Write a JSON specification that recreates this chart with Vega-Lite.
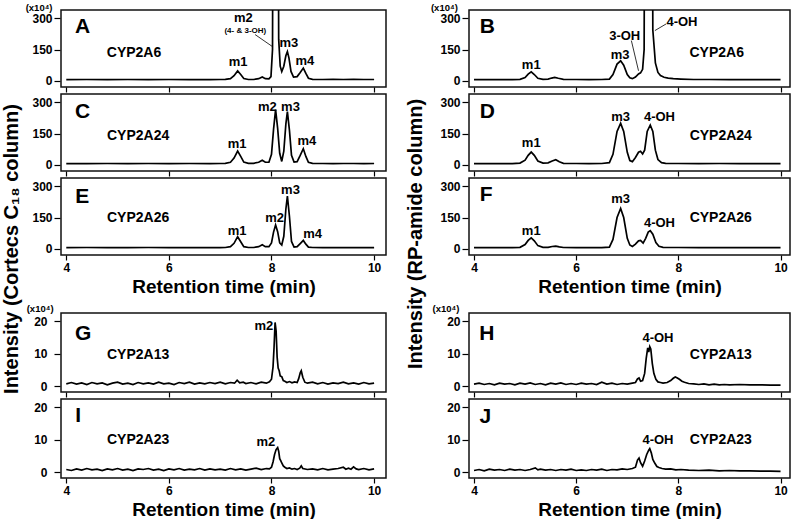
{
  "$schema": "https://vega.github.io/schema/vega-lite/v6.json",
  "background": "white",
  "padding": {"left": 1, "top": 2, "right": 0, "bottom": 0},
  "config": {
    "font": "Liberation Sans",
    "view": {"stroke": "#111", "strokeWidth": 1.5},
    "axis": {"domain": false, "grid": false, "labelFont": "Liberation Sans", "labelFontWeight": "bold", "labelFontSize": 12, "labelColor": "#000", "tickColor": "#000", "tickWidth": 1.2, "titleFont": "Liberation Sans", "titleFontWeight": "bold", "titleFontSize": 19, "titleColor": "#000"},
    "axisY": {"tickSize": 6, "labelPadding": 2, "offset": 1},
    "axisX": {"tickSize": 5, "labelPadding": 2, "titlePadding": 4},
    "line": {"color": "#000", "strokeWidth": 1.7},
    "rule": {"color": "#000", "strokeWidth": 0.8},
    "text": {"font": "Liberation Sans", "fontWeight": "bold", "color": "#000", "baseline": "middle", "align": "center"},
    "title": {"font": "Liberation Sans", "fontWeight": "bold", "color": "#000"}
  },
  "datasets": {
    "A": [{"t":4.0,"v":5},{"t":4.4,"v":6},{"t":4.8,"v":5},{"t":5.2,"v":6},{"t":5.6,"v":5},{"t":6.0,"v":6},{"t":6.4,"v":5},{"t":6.8,"v":5},{"t":7.0,"v":6},{"t":7.1,"v":7},{"t":7.2,"v":10},{"t":7.27,"v":24},{"t":7.34,"v":47},{"t":7.4,"v":30},{"t":7.46,"v":11},{"t":7.55,"v":6},{"t":7.65,"v":6},{"t":7.75,"v":10},{"t":7.82,"v":18},{"t":7.88,"v":10},{"t":7.95,"v":9},{"t":7.99,"v":20},{"t":8.02,"v":150},{"t":8.04,"v":2000},{"t":8.12,"v":2000},{"t":8.14,"v":200},{"t":8.17,"v":70},{"t":8.2,"v":44},{"t":8.24,"v":70},{"t":8.28,"v":120},{"t":8.31,"v":140},{"t":8.34,"v":110},{"t":8.38,"v":45},{"t":8.43,"v":18},{"t":8.5,"v":20},{"t":8.56,"v":40},{"t":8.62,"v":61},{"t":8.67,"v":35},{"t":8.72,"v":12},{"t":8.8,"v":7},{"t":9.0,"v":6},{"t":9.2,"v":7},{"t":9.4,"v":6},{"t":9.6,"v":7},{"t":9.8,"v":6},{"t":10.0,"v":6}],
    "C": [{"t":4.0,"v":5},{"t":4.4,"v":5},{"t":4.8,"v":6},{"t":5.2,"v":5},{"t":5.6,"v":6},{"t":6.0,"v":5},{"t":6.4,"v":6},{"t":6.8,"v":5},{"t":7.0,"v":6},{"t":7.1,"v":7},{"t":7.2,"v":12},{"t":7.27,"v":32},{"t":7.34,"v":66},{"t":7.4,"v":40},{"t":7.46,"v":13},{"t":7.55,"v":7},{"t":7.65,"v":7},{"t":7.75,"v":12},{"t":7.82,"v":22},{"t":7.88,"v":12},{"t":7.95,"v":12},{"t":8.0,"v":50},{"t":8.04,"v":170},{"t":8.08,"v":265},{"t":8.12,"v":175},{"t":8.16,"v":55},{"t":8.2,"v":16},{"t":8.24,"v":65},{"t":8.28,"v":195},{"t":8.31,"v":255},{"t":8.35,"v":165},{"t":8.39,"v":45},{"t":8.44,"v":13},{"t":8.5,"v":15},{"t":8.56,"v":45},{"t":8.62,"v":77},{"t":8.67,"v":40},{"t":8.72,"v":12},{"t":8.8,"v":7},{"t":9.0,"v":6},{"t":9.2,"v":5},{"t":9.4,"v":6},{"t":9.6,"v":6},{"t":9.8,"v":5},{"t":10.0,"v":6}],
    "E": [{"t":4.0,"v":5},{"t":4.4,"v":6},{"t":4.8,"v":5},{"t":5.2,"v":5},{"t":5.6,"v":6},{"t":6.0,"v":5},{"t":6.4,"v":5},{"t":6.8,"v":6},{"t":7.0,"v":5},{"t":7.1,"v":6},{"t":7.2,"v":10},{"t":7.27,"v":26},{"t":7.34,"v":58},{"t":7.4,"v":34},{"t":7.46,"v":10},{"t":7.55,"v":6},{"t":7.65,"v":6},{"t":7.75,"v":10},{"t":7.82,"v":19},{"t":7.88,"v":10},{"t":7.95,"v":10},{"t":8.0,"v":28},{"t":8.04,"v":80},{"t":8.08,"v":114},{"t":8.12,"v":82},{"t":8.16,"v":28},{"t":8.2,"v":18},{"t":8.24,"v":60},{"t":8.28,"v":190},{"t":8.31,"v":253},{"t":8.35,"v":155},{"t":8.39,"v":35},{"t":8.44,"v":8},{"t":8.5,"v":10},{"t":8.56,"v":25},{"t":8.62,"v":40},{"t":8.67,"v":22},{"t":8.72,"v":8},{"t":8.8,"v":6},{"t":9.0,"v":5},{"t":9.2,"v":6},{"t":9.4,"v":5},{"t":9.6,"v":6},{"t":9.8,"v":5},{"t":10.0,"v":5}],
    "B": [{"t":4.0,"v":5},{"t":4.25,"v":5},{"t":4.5,"v":6},{"t":4.75,"v":5},{"t":4.9,"v":7},{"t":5.0,"v":15},{"t":5.06,"v":32},{"t":5.12,"v":43},{"t":5.18,"v":30},{"t":5.25,"v":12},{"t":5.35,"v":7},{"t":5.45,"v":8},{"t":5.52,"v":13},{"t":5.58,"v":16},{"t":5.65,"v":12},{"t":5.75,"v":7},{"t":6.0,"v":6},{"t":6.25,"v":5},{"t":6.5,"v":6},{"t":6.65,"v":8},{"t":6.72,"v":30},{"t":6.8,"v":80},{"t":6.87,"v":96},{"t":6.93,"v":75},{"t":7.0,"v":30},{"t":7.05,"v":14},{"t":7.1,"v":10},{"t":7.16,"v":18},{"t":7.22,"v":33},{"t":7.26,"v":38},{"t":7.3,"v":55},{"t":7.33,"v":150},{"t":7.35,"v":2000},{"t":7.48,"v":2000},{"t":7.5,"v":244},{"t":7.55,"v":86},{"t":7.6,"v":40},{"t":7.65,"v":25},{"t":7.72,"v":17},{"t":7.8,"v":13},{"t":7.9,"v":10},{"t":8.05,"v":8},{"t":8.3,"v":6},{"t":8.6,"v":6},{"t":9.0,"v":5},{"t":9.5,"v":5},{"t":10.0,"v":5}],
    "D": [{"t":4.0,"v":5},{"t":4.25,"v":5},{"t":4.5,"v":6},{"t":4.75,"v":5},{"t":4.9,"v":8},{"t":5.0,"v":22},{"t":5.06,"v":45},{"t":5.12,"v":61},{"t":5.18,"v":45},{"t":5.25,"v":18},{"t":5.35,"v":8},{"t":5.45,"v":9},{"t":5.53,"v":18},{"t":5.6,"v":24},{"t":5.67,"v":14},{"t":5.75,"v":7},{"t":6.0,"v":6},{"t":6.25,"v":5},{"t":6.5,"v":6},{"t":6.65,"v":10},{"t":6.72,"v":50},{"t":6.8,"v":160},{"t":6.87,"v":199},{"t":6.93,"v":160},{"t":7.0,"v":60},{"t":7.05,"v":20},{"t":7.1,"v":15},{"t":7.16,"v":35},{"t":7.22,"v":60},{"t":7.26,"v":65},{"t":7.3,"v":52},{"t":7.34,"v":70},{"t":7.39,"v":160},{"t":7.45,"v":191},{"t":7.5,"v":160},{"t":7.55,"v":70},{"t":7.6,"v":25},{"t":7.67,"v":10},{"t":7.75,"v":7},{"t":8.0,"v":6},{"t":8.4,"v":5},{"t":8.8,"v":6},{"t":9.2,"v":5},{"t":9.6,"v":5},{"t":10.0,"v":5}],
    "F": [{"t":4.0,"v":5},{"t":4.25,"v":5},{"t":4.5,"v":6},{"t":4.75,"v":5},{"t":4.9,"v":7},{"t":5.0,"v":20},{"t":5.06,"v":40},{"t":5.12,"v":52},{"t":5.18,"v":38},{"t":5.25,"v":15},{"t":5.35,"v":7},{"t":5.45,"v":7},{"t":5.53,"v":11},{"t":5.6,"v":13},{"t":5.67,"v":9},{"t":5.75,"v":6},{"t":6.0,"v":5},{"t":6.25,"v":6},{"t":6.5,"v":5},{"t":6.65,"v":8},{"t":6.72,"v":45},{"t":6.8,"v":150},{"t":6.87,"v":194},{"t":6.93,"v":150},{"t":7.0,"v":50},{"t":7.05,"v":18},{"t":7.1,"v":11},{"t":7.16,"v":22},{"t":7.22,"v":38},{"t":7.26,"v":40},{"t":7.31,"v":27},{"t":7.36,"v":50},{"t":7.41,"v":80},{"t":7.45,"v":87},{"t":7.5,"v":70},{"t":7.56,"v":30},{"t":7.62,"v":12},{"t":7.7,"v":7},{"t":8.0,"v":6},{"t":8.4,"v":5},{"t":8.8,"v":5},{"t":9.2,"v":5},{"t":9.6,"v":5},{"t":10.0,"v":5}],
    "G": [{"t":4.0,"v":0.8},{"t":4.1,"v":1.2},{"t":4.2,"v":0.7},{"t":4.3,"v":1.1},{"t":4.4,"v":0.6},{"t":4.5,"v":1.2},{"t":4.6,"v":0.8},{"t":4.7,"v":1.1},{"t":4.8,"v":0.5},{"t":4.9,"v":1.0},{"t":5.0,"v":1.3},{"t":5.1,"v":0.7},{"t":5.2,"v":1.0},{"t":5.3,"v":0.6},{"t":5.4,"v":1.2},{"t":5.5,"v":0.8},{"t":5.6,"v":1.1},{"t":5.7,"v":0.7},{"t":5.8,"v":1.3},{"t":5.9,"v":0.8},{"t":6.0,"v":1.0},{"t":6.1,"v":0.6},{"t":6.2,"v":1.2},{"t":6.3,"v":0.9},{"t":6.4,"v":1.3},{"t":6.5,"v":0.7},{"t":6.6,"v":1.1},{"t":6.7,"v":0.8},{"t":6.8,"v":1.2},{"t":6.9,"v":0.9},{"t":7.0,"v":1.3},{"t":7.1,"v":0.8},{"t":7.2,"v":1.2},{"t":7.28,"v":1.0},{"t":7.33,"v":1.9},{"t":7.38,"v":1.1},{"t":7.45,"v":1.3},{"t":7.5,"v":0.9},{"t":7.6,"v":1.2},{"t":7.7,"v":0.8},{"t":7.8,"v":1.3},{"t":7.9,"v":1.0},{"t":7.96,"v":1.4},{"t":8.0,"v":2.2},{"t":8.03,"v":6},{"t":8.05,"v":12},{"t":8.07,"v":19.6},{"t":8.09,"v":17},{"t":8.11,"v":9},{"t":8.13,"v":5.6},{"t":8.15,"v":4.8},{"t":8.17,"v":3.2},{"t":8.2,"v":3.0},{"t":8.23,"v":1.8},{"t":8.26,"v":1.6},{"t":8.3,"v":1.2},{"t":8.35,"v":1.5},{"t":8.4,"v":1.1},{"t":8.45,"v":1.4},{"t":8.5,"v":1.2},{"t":8.53,"v":2.4},{"t":8.56,"v":4.2},{"t":8.58,"v":4.8},{"t":8.61,"v":2.8},{"t":8.65,"v":1.3},{"t":8.7,"v":1.0},{"t":8.8,"v":1.3},{"t":8.9,"v":0.8},{"t":9.0,"v":1.2},{"t":9.1,"v":0.7},{"t":9.2,"v":1.1},{"t":9.3,"v":0.9},{"t":9.4,"v":1.3},{"t":9.5,"v":0.8},{"t":9.6,"v":1.1},{"t":9.7,"v":0.7},{"t":9.8,"v":1.2},{"t":9.9,"v":0.8},{"t":10.0,"v":1.0}],
    "I": [{"t":4.0,"v":0.9},{"t":4.1,"v":0.6},{"t":4.2,"v":1.1},{"t":4.3,"v":0.7},{"t":4.4,"v":1.2},{"t":4.5,"v":0.8},{"t":4.6,"v":1.0},{"t":4.7,"v":0.6},{"t":4.8,"v":1.1},{"t":4.9,"v":0.8},{"t":5.0,"v":1.2},{"t":5.1,"v":0.7},{"t":5.2,"v":1.0},{"t":5.3,"v":0.6},{"t":5.4,"v":1.1},{"t":5.5,"v":0.9},{"t":5.6,"v":1.2},{"t":5.7,"v":0.7},{"t":5.8,"v":1.0},{"t":5.9,"v":0.6},{"t":6.0,"v":1.1},{"t":6.1,"v":0.8},{"t":6.2,"v":1.2},{"t":6.3,"v":0.7},{"t":6.4,"v":1.0},{"t":6.5,"v":0.8},{"t":6.6,"v":1.2},{"t":6.7,"v":0.7},{"t":6.8,"v":1.1},{"t":6.9,"v":0.8},{"t":7.0,"v":1.0},{"t":7.1,"v":0.7},{"t":7.2,"v":1.2},{"t":7.3,"v":0.8},{"t":7.4,"v":1.1},{"t":7.5,"v":0.7},{"t":7.6,"v":1.0},{"t":7.7,"v":1.3},{"t":7.8,"v":0.9},{"t":7.9,"v":1.2},{"t":7.96,"v":1.1},{"t":8.0,"v":1.6},{"t":8.03,"v":3.2},{"t":8.06,"v":5.5},{"t":8.09,"v":7.0},{"t":8.12,"v":7.6},{"t":8.14,"v":6.5},{"t":8.16,"v":4.2},{"t":8.18,"v":3.6},{"t":8.2,"v":2.9},{"t":8.23,"v":2.0},{"t":8.26,"v":1.6},{"t":8.3,"v":1.2},{"t":8.35,"v":1.4},{"t":8.4,"v":1.0},{"t":8.45,"v":1.2},{"t":8.5,"v":0.9},{"t":8.55,"v":1.3},{"t":8.58,"v":2.0},{"t":8.61,"v":1.2},{"t":8.7,"v":0.9},{"t":8.8,"v":1.1},{"t":8.9,"v":0.8},{"t":9.0,"v":1.2},{"t":9.1,"v":0.8},{"t":9.2,"v":1.0},{"t":9.3,"v":1.2},{"t":9.4,"v":1.6},{"t":9.45,"v":1.0},{"t":9.5,"v":1.3},{"t":9.55,"v":1.0},{"t":9.6,"v":1.7},{"t":9.65,"v":1.1},{"t":9.7,"v":0.9},{"t":9.8,"v":1.2},{"t":9.9,"v":0.8},{"t":10.0,"v":1.1}],
    "H": [{"t":4.0,"v":0.7},{"t":4.1,"v":1.0},{"t":4.2,"v":0.6},{"t":4.3,"v":0.9},{"t":4.4,"v":0.5},{"t":4.5,"v":1.0},{"t":4.6,"v":0.7},{"t":4.7,"v":0.9},{"t":4.8,"v":0.5},{"t":4.9,"v":1.0},{"t":5.0,"v":0.7},{"t":5.1,"v":1.1},{"t":5.2,"v":0.6},{"t":5.3,"v":0.9},{"t":5.4,"v":0.5},{"t":5.5,"v":1.0},{"t":5.6,"v":0.7},{"t":5.7,"v":1.1},{"t":5.8,"v":0.6},{"t":5.9,"v":0.9},{"t":6.0,"v":0.6},{"t":6.1,"v":1.0},{"t":6.2,"v":0.7},{"t":6.3,"v":0.9},{"t":6.4,"v":0.6},{"t":6.5,"v":1.3},{"t":6.6,"v":0.7},{"t":6.7,"v":1.0},{"t":6.8,"v":0.6},{"t":6.9,"v":0.9},{"t":7.0,"v":0.7},{"t":7.1,"v":1.0},{"t":7.16,"v":1.2},{"t":7.2,"v":2.3},{"t":7.23,"v":2.6},{"t":7.26,"v":1.6},{"t":7.3,"v":1.8},{"t":7.34,"v":4.0},{"t":7.37,"v":8.5},{"t":7.4,"v":11.8},{"t":7.42,"v":10.5},{"t":7.44,"v":12.2},{"t":7.46,"v":11.5},{"t":7.49,"v":7.0},{"t":7.52,"v":4.0},{"t":7.56,"v":2.2},{"t":7.6,"v":1.4},{"t":7.65,"v":1.2},{"t":7.7,"v":1.0},{"t":7.78,"v":1.2},{"t":7.85,"v":1.8},{"t":7.9,"v":2.5},{"t":7.94,"v":2.9},{"t":7.98,"v":2.6},{"t":8.02,"v":2.2},{"t":8.07,"v":1.6},{"t":8.12,"v":1.3},{"t":8.2,"v":0.9},{"t":8.3,"v":0.8},{"t":8.4,"v":0.6},{"t":8.5,"v":0.8},{"t":8.6,"v":0.5},{"t":8.7,"v":0.7},{"t":8.8,"v":0.5},{"t":8.9,"v":0.6},{"t":9.0,"v":0.5},{"t":9.2,"v":0.6},{"t":9.4,"v":0.5},{"t":9.6,"v":0.5},{"t":9.8,"v":0.4},{"t":10.0,"v":0.4}],
    "J": [{"t":4.0,"v":0.6},{"t":4.1,"v":0.9},{"t":4.2,"v":0.5},{"t":4.3,"v":1.0},{"t":4.4,"v":0.7},{"t":4.5,"v":0.9},{"t":4.6,"v":0.6},{"t":4.7,"v":1.0},{"t":4.8,"v":0.7},{"t":4.9,"v":0.9},{"t":5.0,"v":0.6},{"t":5.1,"v":0.9},{"t":5.2,"v":1.4},{"t":5.25,"v":0.8},{"t":5.3,"v":1.0},{"t":5.4,"v":0.7},{"t":5.5,"v":0.9},{"t":5.6,"v":0.6},{"t":5.7,"v":0.9},{"t":5.8,"v":0.7},{"t":5.9,"v":1.0},{"t":6.0,"v":0.6},{"t":6.1,"v":0.8},{"t":6.2,"v":0.6},{"t":6.3,"v":0.9},{"t":6.4,"v":0.7},{"t":6.5,"v":1.0},{"t":6.6,"v":0.6},{"t":6.7,"v":0.9},{"t":6.8,"v":0.8},{"t":6.9,"v":1.1},{"t":7.0,"v":0.9},{"t":7.1,"v":1.2},{"t":7.16,"v":1.6},{"t":7.2,"v":3.8},{"t":7.23,"v":4.4},{"t":7.26,"v":3.0},{"t":7.3,"v":1.9},{"t":7.34,"v":3.5},{"t":7.38,"v":5.5},{"t":7.42,"v":6.8},{"t":7.44,"v":7.3},{"t":7.47,"v":6.0},{"t":7.5,"v":4.0},{"t":7.54,"v":2.8},{"t":7.58,"v":1.8},{"t":7.62,"v":1.5},{"t":7.68,"v":1.2},{"t":7.75,"v":1.0},{"t":7.85,"v":1.1},{"t":7.95,"v":0.8},{"t":8.05,"v":0.9},{"t":8.2,"v":0.7},{"t":8.4,"v":0.6},{"t":8.6,"v":0.7},{"t":8.8,"v":0.5},{"t":9.0,"v":0.6},{"t":9.2,"v":0.5},{"t":9.4,"v":0.5},{"t":9.6,"v":0.4},{"t":9.8,"v":0.4},{"t":10.0,"v":0.3}],
    "L": [
      {"p":"A","t":4.32,"v":256,"s":"A","k":"L"},{"p":"A","t":5.32,"v":132,"s":"CYP2A6","k":"C"},{"p":"A","t":7.35,"v":89,"s":"m1","k":"P"},{"p":"A","t":7.45,"v":302,"s":"m2","k":"P"},{"p":"A","t":7.49,"v":238,"s":"(4- & 3-OH)","k":"S"},{"p":"A","t":8.34,"v":180,"s":"m3","k":"P"},{"p":"A","t":8.65,"v":96,"s":"m4","k":"P"},{"p":"A","t":3.47,"v":350,"s":"(x10⁴)","k":"X"},
      {"p":"C","t":4.32,"v":252,"s":"C","k":"L"},{"p":"C","t":5.4,"v":136,"s":"CYP2A24","k":"C"},{"p":"C","t":7.33,"v":100,"s":"m1","k":"P"},{"p":"C","t":7.92,"v":279,"s":"m2","k":"P"},{"p":"C","t":8.37,"v":279,"s":"m3","k":"P"},{"p":"C","t":8.69,"v":116,"s":"m4","k":"P"},
      {"p":"E","t":4.31,"v":249,"s":"E","k":"L"},{"p":"E","t":5.4,"v":150,"s":"CYP2A26","k":"C"},{"p":"E","t":7.33,"v":87,"s":"m1","k":"P"},{"p":"E","t":8.06,"v":147,"s":"m2","k":"P"},{"p":"E","t":8.37,"v":281,"s":"m3","k":"P"},{"p":"E","t":8.8,"v":71,"s":"m4","k":"P"},
      {"p":"B","t":4.26,"v":256,"s":"B","k":"L"},{"p":"B","t":8.75,"v":135,"s":"CYP2A6","k":"C"},{"p":"B","t":5.12,"v":77,"s":"m1","k":"P"},{"p":"B","t":6.86,"v":122,"s":"m3","k":"P"},{"p":"B","t":6.95,"v":215,"s":"3-OH","k":"P"},{"p":"B","t":8.07,"v":284,"s":"4-OH","k":"P"},{"p":"B","t":3.42,"v":350,"s":"(x10⁴)","k":"X"},
      {"p":"D","t":4.26,"v":252,"s":"D","k":"L"},{"p":"D","t":8.83,"v":136,"s":"CYP2A24","k":"C"},{"p":"D","t":5.12,"v":104,"s":"m1","k":"P"},{"p":"D","t":6.87,"v":228,"s":"m3","k":"P"},{"p":"D","t":7.63,"v":228,"s":"4-OH","k":"P"},
      {"p":"F","t":4.24,"v":257,"s":"F","k":"L"},{"p":"F","t":8.83,"v":150,"s":"CYP2A26","k":"C"},{"p":"F","t":5.12,"v":87,"s":"m1","k":"P"},{"p":"F","t":6.87,"v":237,"s":"m3","k":"P"},{"p":"F","t":7.63,"v":126,"s":"4-OH","k":"P"},
      {"p":"G","t":4.33,"v":16.1,"s":"G","k":"L"},{"p":"G","t":5.4,"v":9.5,"s":"CYP2A13","k":"C"},{"p":"G","t":7.85,"v":18.5,"s":"m2","k":"P"},{"p":"G","t":3.49,"v":23.8,"s":"(x10⁴)","k":"X"},
      {"p":"I","t":4.23,"v":17.2,"s":"I","k":"L"},{"p":"I","t":5.4,"v":9.9,"s":"CYP2A23","k":"C"},{"p":"I","t":7.89,"v":9.2,"s":"m2","k":"P"},
      {"p":"H","t":4.25,"v":16.1,"s":"H","k":"L"},{"p":"H","t":8.83,"v":9.5,"s":"CYP2A13","k":"C"},{"p":"H","t":7.6,"v":14.9,"s":"4-OH","k":"P"},{"p":"H","t":3.45,"v":23.8,"s":"(x10⁴)","k":"X"},
      {"p":"J","t":4.22,"v":16.9,"s":"J","k":"L"},{"p":"J","t":8.83,"v":9.9,"s":"CYP2A23","k":"C"},{"p":"J","t":7.6,"v":9.9,"s":"4-OH","k":"P"}
    ],
    "R": [
      {"p":"A","t":7.68,"v":222,"t2":8.02,"v2":164},
      {"p":"B","t":7.08,"v":193,"t2":7.22,"v2":48},
      {"p":"B","t":7.76,"v":273,"t2":7.54,"v2":241}
    ]
  },
  "spacing": 19,
  "hconcat": [
    {
      "title": {"text": "Intensity (Cortecs C₁₈ column)", "orient": "left", "anchor": "middle", "fontSize": 20, "offset": 3, "dx": 12},
      "spacing": 6,
      "vconcat": [
        {
          "spacing": -2,
          "vconcat": [
            {"width": 325, "height": 77,
             "encoding": {"x": {"field": "t", "type": "quantitative", "scale": {"domain": [3.897, 10.232], "nice": false, "zero": false}, "axis": {"values": [4, 6, 8, 10], "labels": false, "title": null}},
                          "y": {"field": "v", "type": "quantitative", "scale": {"domain": [-30, 340], "nice": false, "zero": false}, "axis": {"values": [0, 150, 300], "title": null}}},
             "layer": [
               {"data": {"name": "A"}, "mark": {"type": "line", "clip": true}, "encoding": {}},
               {"data": {"name": "L"}, "transform": [{"filter": "datum.p=='A'"}], "mark": {"type": "text"}, "encoding": {"text": {"field": "s"}, "size": {"field": "k", "type": "nominal", "scale": {"type": "ordinal", "domain": ["L", "C", "P", "S", "X"], "range": [21, 14, 13, 8, 9.5]}, "legend": null}}},
               {"data": {"name": "R"}, "transform": [{"filter": "datum.p=='A'"}], "mark": {"type": "rule"}, "encoding": {"x2": {"field": "t2"}, "y2": {"field": "v2"}}}
             ]},
            {"width": 325, "height": 77,
             "encoding": {"x": {"field": "t", "type": "quantitative", "scale": {"domain": [3.897, 10.232], "nice": false, "zero": false}, "axis": {"values": [4, 6, 8, 10], "labels": false, "title": null}},
                          "y": {"field": "v", "type": "quantitative", "scale": {"domain": [-30, 340], "nice": false, "zero": false}, "axis": {"values": [0, 150, 300], "title": null}}},
             "layer": [
               {"data": {"name": "C"}, "mark": {"type": "line", "clip": true}, "encoding": {}},
               {"data": {"name": "L"}, "transform": [{"filter": "datum.p=='C'"}], "mark": {"type": "text"}, "encoding": {"text": {"field": "s"}, "size": {"field": "k", "type": "nominal", "scale": {"type": "ordinal", "domain": ["L", "C", "P", "S", "X"], "range": [21, 14, 13, 8, 9.5]}, "legend": null}}}
             ]},
            {"width": 325, "height": 77,
             "encoding": {"x": {"field": "t", "type": "quantitative", "scale": {"domain": [3.897, 10.232], "nice": false, "zero": false}, "axis": {"values": [4, 6, 8, 10], "title": "Retention time (min)"}},
                          "y": {"field": "v", "type": "quantitative", "scale": {"domain": [-30, 340], "nice": false, "zero": false}, "axis": {"values": [0, 150, 300], "title": null}}},
             "layer": [
               {"data": {"name": "E"}, "mark": {"type": "line", "clip": true}, "encoding": {}},
               {"data": {"name": "L"}, "transform": [{"filter": "datum.p=='E'"}], "mark": {"type": "text"}, "encoding": {"text": {"field": "s"}, "size": {"field": "k", "type": "nominal", "scale": {"type": "ordinal", "domain": ["L", "C", "P", "S", "X"], "range": [21, 14, 13, 8, 9.5]}, "legend": null}}}
             ]}
          ]
        },
        {
          "spacing": -3,
          "vconcat": [
            {"width": 325, "height": 79,
             "encoding": {"x": {"field": "t", "type": "quantitative", "scale": {"domain": [3.897, 10.232], "nice": false, "zero": false}, "axis": {"values": [4, 6, 8, 10], "labels": false, "title": null}},
                          "y": {"field": "v", "type": "quantitative", "scale": {"domain": [-1.7, 22.5], "nice": false, "zero": false}, "axis": {"values": [0, 10, 20], "title": null, "labelPadding": 7}}},
             "layer": [
               {"data": {"name": "G"}, "mark": {"type": "line", "clip": true}, "encoding": {}},
               {"data": {"name": "L"}, "transform": [{"filter": "datum.p=='G'"}], "mark": {"type": "text"}, "encoding": {"text": {"field": "s"}, "size": {"field": "k", "type": "nominal", "scale": {"type": "ordinal", "domain": ["L", "C", "P", "S", "X"], "range": [21, 14, 13, 8, 9.5]}, "legend": null}}}
             ]},
            {"width": 325, "height": 79,
             "encoding": {"x": {"field": "t", "type": "quantitative", "scale": {"domain": [3.897, 10.232], "nice": false, "zero": false}, "axis": {"values": [4, 6, 8, 10], "title": "Retention time (min)"}},
                          "y": {"field": "v", "type": "quantitative", "scale": {"domain": [-1.7, 22.5], "nice": false, "zero": false}, "axis": {"values": [0, 10, 20], "title": null, "labelPadding": 7}}},
             "layer": [
               {"data": {"name": "I"}, "mark": {"type": "line", "clip": true}, "encoding": {}},
               {"data": {"name": "L"}, "transform": [{"filter": "datum.p=='I'"}], "mark": {"type": "text"}, "encoding": {"text": {"field": "s"}, "size": {"field": "k", "type": "nominal", "scale": {"type": "ordinal", "domain": ["L", "C", "P", "S", "X"], "range": [21, 14, 13, 8, 9.5]}, "legend": null}}}
             ]}
          ]
        }
      ]
    },
    {
      "title": {"text": "Intensity (RP-amide column)", "orient": "left", "anchor": "middle", "fontSize": 20, "offset": 4, "dx": 27},
      "spacing": 6,
      "vconcat": [
        {
          "spacing": -2,
          "vconcat": [
            {"width": 321, "height": 77,
             "encoding": {"x": {"field": "t", "type": "quantitative", "scale": {"domain": [3.902, 10.185], "nice": false, "zero": false}, "axis": {"values": [4, 6, 8, 10], "labels": false, "title": null}},
                          "y": {"field": "v", "type": "quantitative", "scale": {"domain": [-30, 340], "nice": false, "zero": false}, "axis": {"values": [0, 150, 300], "title": null}}},
             "layer": [
               {"data": {"name": "B"}, "mark": {"type": "line", "clip": true}, "encoding": {}},
               {"data": {"name": "L"}, "transform": [{"filter": "datum.p=='B'"}], "mark": {"type": "text"}, "encoding": {"text": {"field": "s"}, "size": {"field": "k", "type": "nominal", "scale": {"type": "ordinal", "domain": ["L", "C", "P", "S", "X"], "range": [21, 14, 13, 8, 9.5]}, "legend": null}}},
               {"data": {"name": "R"}, "transform": [{"filter": "datum.p=='B'"}], "mark": {"type": "rule"}, "encoding": {"x2": {"field": "t2"}, "y2": {"field": "v2"}}}
             ]},
            {"width": 321, "height": 77,
             "encoding": {"x": {"field": "t", "type": "quantitative", "scale": {"domain": [3.902, 10.185], "nice": false, "zero": false}, "axis": {"values": [4, 6, 8, 10], "labels": false, "title": null}},
                          "y": {"field": "v", "type": "quantitative", "scale": {"domain": [-30, 340], "nice": false, "zero": false}, "axis": {"values": [0, 150, 300], "title": null}}},
             "layer": [
               {"data": {"name": "D"}, "mark": {"type": "line", "clip": true}, "encoding": {}},
               {"data": {"name": "L"}, "transform": [{"filter": "datum.p=='D'"}], "mark": {"type": "text"}, "encoding": {"text": {"field": "s"}, "size": {"field": "k", "type": "nominal", "scale": {"type": "ordinal", "domain": ["L", "C", "P", "S", "X"], "range": [21, 14, 13, 8, 9.5]}, "legend": null}}}
             ]},
            {"width": 321, "height": 77,
             "encoding": {"x": {"field": "t", "type": "quantitative", "scale": {"domain": [3.902, 10.185], "nice": false, "zero": false}, "axis": {"values": [4, 6, 8, 10], "title": "Retention time (min)"}},
                          "y": {"field": "v", "type": "quantitative", "scale": {"domain": [-30, 340], "nice": false, "zero": false}, "axis": {"values": [0, 150, 300], "title": null}}},
             "layer": [
               {"data": {"name": "F"}, "mark": {"type": "line", "clip": true}, "encoding": {}},
               {"data": {"name": "L"}, "transform": [{"filter": "datum.p=='F'"}], "mark": {"type": "text"}, "encoding": {"text": {"field": "s"}, "size": {"field": "k", "type": "nominal", "scale": {"type": "ordinal", "domain": ["L", "C", "P", "S", "X"], "range": [21, 14, 13, 8, 9.5]}, "legend": null}}}
             ]}
          ]
        },
        {
          "spacing": -3,
          "vconcat": [
            {"width": 321, "height": 79,
             "encoding": {"x": {"field": "t", "type": "quantitative", "scale": {"domain": [3.902, 10.185], "nice": false, "zero": false}, "axis": {"values": [4, 6, 8, 10], "labels": false, "title": null}},
                          "y": {"field": "v", "type": "quantitative", "scale": {"domain": [-1.7, 22.5], "nice": false, "zero": false}, "axis": {"values": [0, 10, 20], "title": null}}},
             "layer": [
               {"data": {"name": "H"}, "mark": {"type": "line", "clip": true}, "encoding": {}},
               {"data": {"name": "L"}, "transform": [{"filter": "datum.p=='H'"}], "mark": {"type": "text"}, "encoding": {"text": {"field": "s"}, "size": {"field": "k", "type": "nominal", "scale": {"type": "ordinal", "domain": ["L", "C", "P", "S", "X"], "range": [21, 14, 13, 8, 9.5]}, "legend": null}}}
             ]},
            {"width": 321, "height": 79,
             "encoding": {"x": {"field": "t", "type": "quantitative", "scale": {"domain": [3.902, 10.185], "nice": false, "zero": false}, "axis": {"values": [4, 6, 8, 10], "title": "Retention time (min)"}},
                          "y": {"field": "v", "type": "quantitative", "scale": {"domain": [-1.7, 22.5], "nice": false, "zero": false}, "axis": {"values": [0, 10, 20], "title": null}}},
             "layer": [
               {"data": {"name": "J"}, "mark": {"type": "line", "clip": true}, "encoding": {}},
               {"data": {"name": "L"}, "transform": [{"filter": "datum.p=='J'"}], "mark": {"type": "text"}, "encoding": {"text": {"field": "s"}, "size": {"field": "k", "type": "nominal", "scale": {"type": "ordinal", "domain": ["L", "C", "P", "S", "X"], "range": [21, 14, 13, 8, 9.5]}, "legend": null}}}
             ]}
          ]
        }
      ]
    }
  ]
}
